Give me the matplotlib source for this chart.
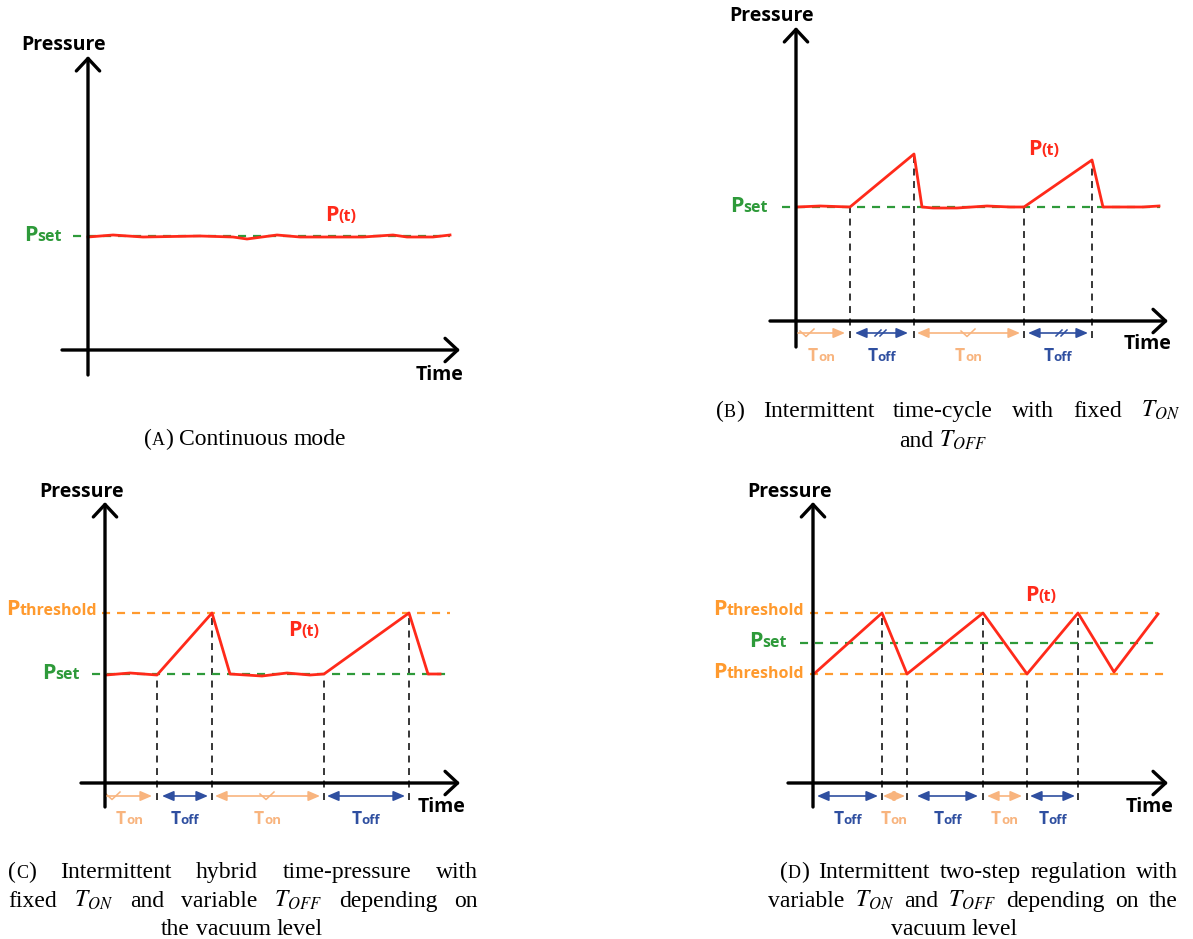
import matplotlib
matplotlib.use("Agg")
import numpy as np
import matplotlib.pyplot as plt

W, H = 1193, 939

RED = "#ff2a1a"
GREEN = "#2e9a3a"
ORANGE = "#ff9a2e"
LIGHT_ORANGE = "#f8b47e"
BLUE = "#2f4fa0"
SANS = "Open Sans"
SERIF = "Liberation Serif"

plt.rcParams["mathtext.fontset"] = "stix"
plt.rcParams["lines.scale_dashes"] = False

# ---- data: time / pressure in drawing units, origin at the axes crossing ----
# (a) continuous mode
a_time = [0, 25, 55, 112, 145, 159, 189, 212, 275, 305, 319, 345, 362]
a_pres = [113, 115, 113, 114, 113, 111, 115, 113, 113, 115, 113, 113, 115]
a_pset = 114

# (b) fixed T_on / T_off
b_time = [1, 24, 54, 118, 126, 137, 161, 191, 214, 228, 296, 307, 324, 347, 363]
b_pres = [114, 115, 114, 167, 114, 113, 113, 115, 114, 114, 161, 114, 114, 114, 115]
b_pset = 114
b_marks = [54, 118, 228, 296]
b_start = [2, 59, 121, 232]
b_end = [49, 112, 224, 292]
b_kind = ["on", "off", "on", "off"]

# (c) hybrid time-pressure
c_time = [1, 25, 52, 107, 125, 157, 182, 205, 219, 304, 323, 335]
c_pres = [108, 110, 108, 170, 109, 107, 110, 108, 109, 170, 109, 109]
c_pset = 109
c_thr = 170
c_marks = [52, 107, 219, 304]
c_start = [2, 57, 110, 222]
c_end = [47, 103, 215, 300]
c_kind = ["on", "off", "on", "off"]

# (d) two-step regulation
d_time = [2, 69, 94, 170, 214, 265, 301, 345]
d_pres = [110, 170, 109, 170, 109, 170, 111, 169]
d_pset = 140
d_thr_hi = 170
d_thr_lo = 109
d_marks = [69, 94, 170, 214, 265]
d_start = [4, 70, 104, 174, 217]
d_end = [65, 92, 165, 209, 262]
d_kind = ["off", "on", "off", "on", "off"]

fig = plt.figure(figsize=(W / 100, H / 100), dpi=100)
renderer = fig.canvas.get_renderer()


def panel(ox, oy):
    """Transparent axes over the whole figure, 1 unit = 1 px, origin at (ox, oy)."""
    ax = fig.add_axes([0, 0, 1, 1])
    ax.set_xlim(-ox, W - ox)
    ax.set_ylim(oy - H, oy)
    ax.axis("off")
    ax.patch.set_alpha(0)
    return ax


def rich(ax, x, y, parts, ha="left", family=SANS, weight="bold"):
    texts = [ax.text(0, y, s, fontsize=size, color=color, family=family,
                     weight=weight, ha="left", va="baseline")
             for s, size, color in parts]
    widths = [t.get_window_extent(renderer=renderer).width for t in texts]
    total = sum(widths)
    if ha == "right":
        x0 = x - total
    elif ha == "center":
        x0 = x - total / 2
    else:
        x0 = x
    for t, w in zip(texts, widths):
        t.set_x(x0)
        x0 += w
    return total


def draw_frame(ax, t_min, t_max, p_min, p_max, time_xy, pres_xy):
    arrow = dict(arrowstyle="->,head_length=0.45,head_width=0.42", lw=2.4,
                 color="black", mutation_scale=20, shrinkA=0, shrinkB=0)
    ax.annotate("", xy=(t_max, 0), xytext=(t_min, 0), arrowprops=arrow)
    ax.annotate("", xy=(0, p_max), xytext=(0, p_min), arrowprops=arrow)
    rich(ax, *pres_xy, [("Pressure", 14, "black")], ha="center")
    rich(ax, *time_xy, [("Time", 14, "black")], ha="center")


def hline(ax, y, x0, x1, color):
    ax.plot([x0, x1], [y, y], color=color, lw=1.6, dashes=(5.8, 5))


def marks(ax, t, p, times, bottom=-17):
    for m in times:
        top = np.interp(m, t, p)
        ax.plot([m, m], [bottom, top], color="black", lw=1.1, dashes=(5, 4),
                zorder=1)


def periods(ax, starts, ends, kinds, y, v_marks=(), slash_marks=()):
    for i, (s, e, k) in enumerate(zip(starts, ends, kinds)):
        color = LIGHT_ORANGE if k == "on" else BLUE
        style = "-|>" if (i == 0 and len(v_marks)) else "<|-|>"
        ax.annotate("", xy=(e, y), xytext=(s, y),
                    arrowprops=dict(arrowstyle=style + ",head_length=0.7,head_width=0.3",
                                    lw=1.2, color=color, mutation_scale=10,
                                    shrinkA=0, shrinkB=0))
        rich(ax, (s + e) / 2, y - 28,
             [("T", 12.5, color), (k, 9.5, color)], ha="center")
    for cx in v_marks:
        ax.plot([cx - 7, cx - 1, cx + 7], [y + 2, y - 3.5, y + 4],
                color=LIGHT_ORANGE, lw=1.1)
    for cx in slash_marks:
        for dx in (-3, 2):
            ax.plot([cx + dx - 3, cx + dx + 3], [y - 3, y + 3], color=BLUE, lw=1.1)


def p_label(ax, x, y, sub, color, ha="right"):
    rich(ax, x, y, [("P", 15.5, color), (sub, 11.5, color)], ha=ha)


# ---- (a) ----
ax = panel(88, 350)
hline(ax, a_pset, -15, 362, GREEN)
ax.plot(a_time, a_pres, color=RED, lw=2, zorder=3)
draw_frame(ax, -26, 372, -25, 294, (352, -30), (-24, 300))
p_label(ax, -26, 109, "set", GREEN)
p_label(ax, 237, 129, "(t)", RED, ha="left")

# ---- (b) ----
ax = panel(796, 321)
hline(ax, b_pset, -14, 364, GREEN)
marks(ax, b_time, b_pres, b_marks)
ax.plot(b_time, b_pres, color=RED, lw=2, zorder=3)
draw_frame(ax, -26, 372, -26, 294, (352, -28), (-24, 300))
periods(ax, b_start, b_end, b_kind, -12, v_marks=[11, 172], slash_marks=[85, 266])
p_label(ax, -28, 109, "set", GREEN)
p_label(ax, 232, 166, "(t)", RED, ha="left")

# ---- (c) ----
ax = panel(105, 783)
hline(ax, c_thr, -3, 345, ORANGE)
hline(ax, c_pset, -13, 345, GREEN)
marks(ax, c_time, c_pres, c_marks)
ax.plot(c_time, c_pres, color=RED, lw=2, zorder=3)
draw_frame(ax, -24, 355, -24, 281, (337, -29), (-23, 286))
periods(ax, c_start, c_end, c_kind, -13, v_marks=[8, 162])
p_label(ax, -8, 168, "threshold", ORANGE)
p_label(ax, -25, 104, "set", GREEN)
p_label(ax, 183, 147, "(t)", RED, ha="left")

# ---- (d) ----
ax = panel(813, 783)
hline(ax, d_thr_hi, -3, 345, ORANGE)
hline(ax, d_pset, -13, 345, GREEN)
hline(ax, d_thr_lo, -3, 354, ORANGE)
marks(ax, d_time, d_pres, d_marks)
ax.plot(d_time, d_pres, color=RED, lw=2, zorder=3)
draw_frame(ax, -25, 355, -24, 281, (337, -29), (-23, 286))
periods(ax, d_start, d_end, d_kind, -13)
p_label(ax, -9, 168, "threshold", ORANGE)
p_label(ax, -26, 136, "set", GREEN)
p_label(ax, -9, 105, "threshold", ORANGE)
p_label(ax, 212, 182, "(t)", RED, ha="left")

# ---- captions ----
page = fig.add_axes([0, 0, 1, 1])
page.set_xlim(0, W)
page.set_ylim(H, 0)
page.axis("off")
page.patch.set_alpha(0)

BIG, SMALL = 17, 13


def word_parts(w):
    if isinstance(w, str):
        return [(w, BIG, "black")]
    return [(s, size, "black") for s, size in w]


def measure(w):
    parts = word_parts(w)
    texts = [page.text(0, 0, s, fontsize=size, family=SERIF) for s, size, _ in parts]
    width = sum(t.get_window_extent(renderer=renderer).width for t in texts)
    for t in texts:
        t.remove()
    return width


def caption_line(words, x0, x1, y, justify=True):
    widths = [measure(w) for w in words]
    if justify and len(words) > 1:
        gap = (x1 - x0 - sum(widths)) / (len(words) - 1)
        x = x0
    else:
        gap = 6
        x = (x0 + x1) / 2 - (sum(widths) + gap * (len(words) - 1)) / 2
    for w, wd in zip(words, widths):
        rich(page, x, y, word_parts(w), family=SERIF, weight="normal")
        x += wd + gap


def tag(letter):
    return [("(", BIG), (letter, SMALL), (")", BIG)]


T_ON, T_OFF = r"$T_{ON}$", r"$T_{OFF}$"

caption_line([tag("A"), "Continuous", "mode"], 133, 357, 445, justify=False)
caption_line([tag("B"), "Intermittent", "time-cycle", "with", "fixed", T_ON], 716, 1180, 417)
caption_line(["and", T_OFF], 893, 993, 447, justify=False)
caption_line([tag("C"), "Intermittent", "hybrid", "time-pressure", "with"], 8, 478, 878)
caption_line(["fixed", T_ON, "and", "variable", T_OFF, "depending", "on"], 8, 478, 907)
caption_line(["the", "vacuum", "level"], 152, 332, 935, justify=False)
caption_line([tag("D"), "Intermittent", "two-step", "regulation", "with"], 780, 1178, 878)
caption_line(["variable", T_ON, "and", T_OFF, "depending", "on", "the"], 768, 1178, 907)
caption_line(["vacuum", "level"], 897, 1012, 935, justify=False)

fig.savefig("out.png", dpi=100)
